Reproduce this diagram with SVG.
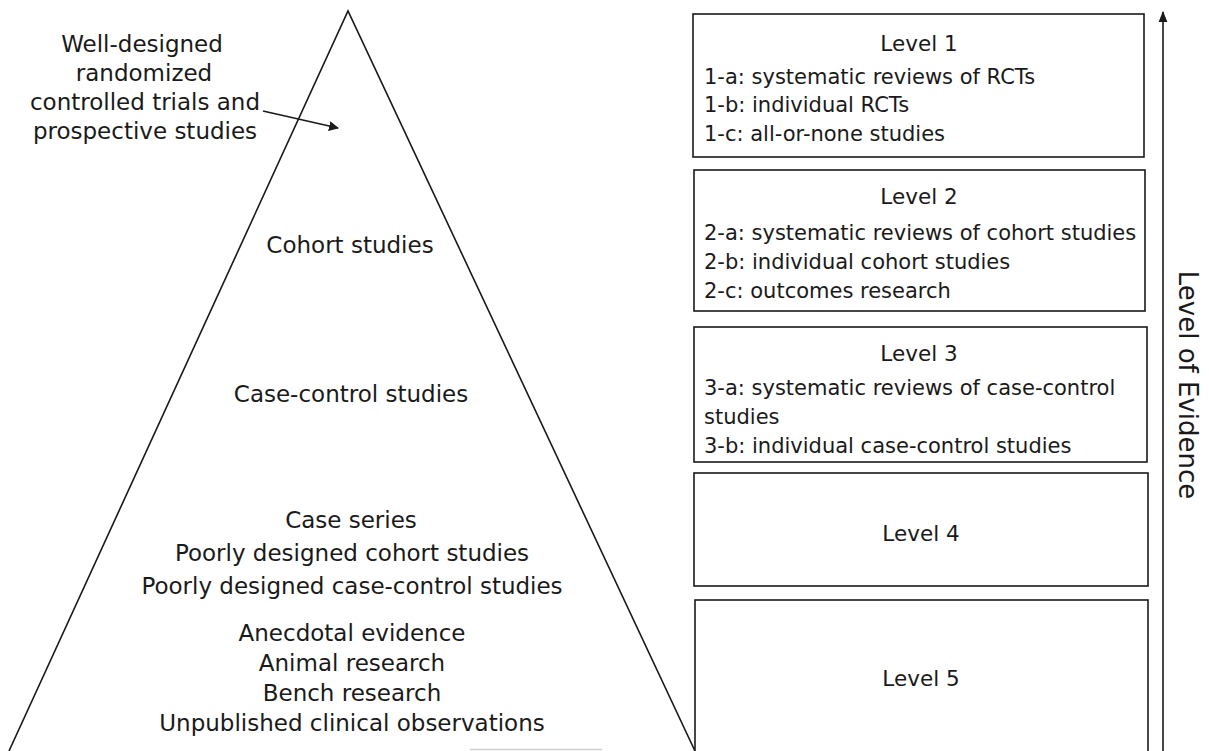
<svg xmlns="http://www.w3.org/2000/svg" width="1209" height="751" viewBox="0 0 1209 751">
<style>
  .t { font-family: "DejaVu Sans", Verdana, sans-serif; fill: #1a1a1a; }
  .p { font-size: 23px; text-anchor: middle; }
  .b { font-size: 21px; }
  .h { font-size: 21.5px; text-anchor: middle; }
  .box { fill: #fff; stroke: #1a1a1a; stroke-width: 1.6; }
  .ln { stroke: #1a1a1a; stroke-width: 1.6; fill: none; }
</style>
<defs>
  <marker id="ah" viewBox="0 0 10 10" refX="9" refY="5" markerWidth="10" markerHeight="10" orient="auto" markerUnits="userSpaceOnUse">
    <path d="M0,0 L10,5 L0,10 z" fill="#1a1a1a"/>
  </marker>
  <marker id="ah2" viewBox="0 0 10 10" refX="9" refY="5" markerWidth="11" markerHeight="11" orient="auto" markerUnits="userSpaceOnUse">
    <path d="M0,1 L10,5 L0,9 z" fill="#1a1a1a"/>
  </marker>
</defs>
<rect width="1209" height="751" fill="#fff"/>

<g id="pyramid">
  <polyline class="ln" points="9,751 348,11 695,751"/>
  <line x1="470" y1="749.5" x2="602" y2="749.5" stroke="#d0d0d0" stroke-width="1.5"/>
  <text class="t p" x="350" y="253">Cohort studies</text>
  <text class="t p" x="351" y="402">Case-control studies</text>
  <text class="t p" x="351" y="528">Case series</text>
  <text class="t p" x="352" y="561">Poorly designed cohort studies</text>
  <text class="t p" x="352" y="594">Poorly designed case-control studies</text>
  <text class="t p" x="352" y="641">Anecdotal evidence</text>
  <text class="t p" x="352" y="671">Animal research</text>
  <text class="t p" x="352" y="701">Bench research</text>
  <text class="t p" x="352" y="731">Unpublished clinical observations</text>
</g>

<g id="top-label">
  <text class="t p" x="142" y="52">Well-designed</text>
  <text class="t p" x="144" y="81">randomized</text>
  <text class="t p" x="145" y="110">controlled trials and</text>
  <text class="t p" x="145" y="139">prospective studies</text>
</g>

<g id="level1">
  <rect class="box" x="693" y="14" width="451" height="143"/>
  <text class="t h" x="919" y="51">Level 1</text>
  <text class="t b" x="704" y="84">1-a: systematic reviews of RCTs</text>
  <text class="t b" x="704" y="112">1-b: individual RCTs</text>
  <text class="t b" x="704" y="141">1-c: all-or-none studies</text>
</g>

<g id="level2">
  <rect class="box" x="694" y="170" width="451" height="141"/>
  <text class="t h" x="919" y="204">Level 2</text>
  <text class="t b" x="704" y="240">2-a: systematic reviews of cohort studies</text>
  <text class="t b" x="704" y="269">2-b: individual cohort studies</text>
  <text class="t b" x="704" y="298">2-c: outcomes research</text>
</g>

<g id="level3">
  <rect class="box" x="694" y="327" width="453" height="135"/>
  <text class="t h" x="919" y="361">Level 3</text>
  <text class="t b" x="704" y="395">3-a: systematic reviews of case-control</text>
  <text class="t b" x="704" y="424">studies</text>
  <text class="t b" x="704" y="453">3-b: individual case-control studies</text>
</g>

<g id="level4">
  <rect class="box" x="694" y="473" width="454" height="113"/>
  <text class="t h" x="921" y="541">Level 4</text>
</g>

<g id="level5">
  <rect class="box" x="695" y="600" width="453" height="160"/>
  <text class="t h" x="921" y="686">Level 5</text>
</g>

<g id="axis-label">
  <text class="t" font-size="26" text-anchor="middle" transform="translate(1179,385) rotate(90)">Level of Evidence</text>
</g>

<g id="connectors">
  <line class="ln" x1="263" y1="111" x2="338" y2="128" marker-end="url(#ah)"/>
  <line class="ln" x1="1163" y1="751" x2="1163" y2="12" marker-end="url(#ah2)"/>
</g>
</svg>
